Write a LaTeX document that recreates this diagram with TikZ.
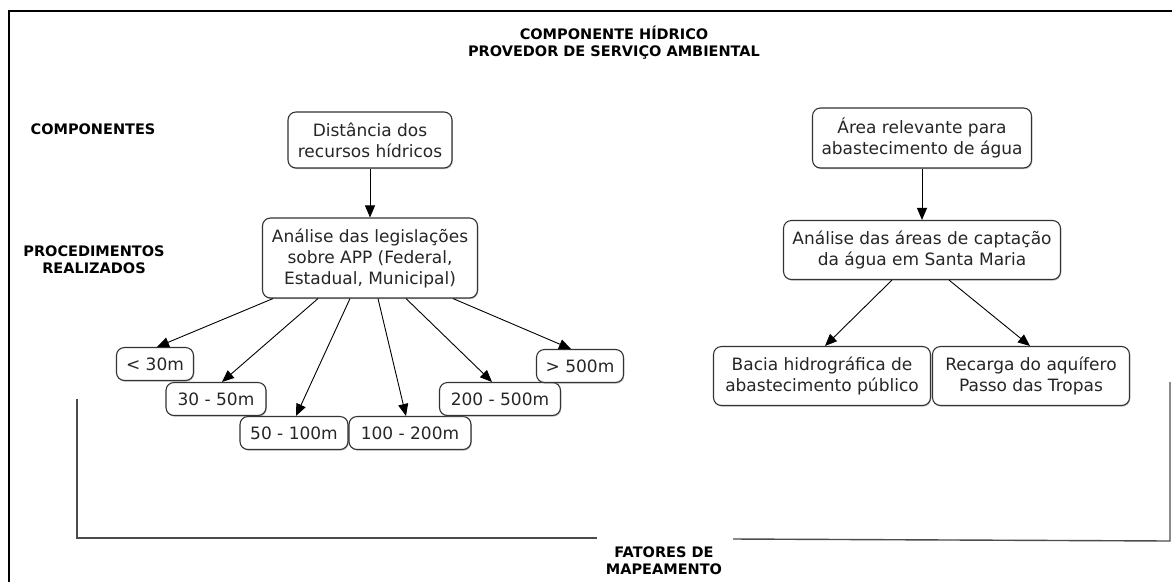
\documentclass[tikz,border=0pt]{standalone}
\usepackage{fontspec}
\setmainfont{DejaVu Sans}
\usetikzlibrary{arrows.meta,calc,shadows}
\begin{document}
\begin{tikzpicture}[x=1pt,y=-1pt,
  box/.style={draw=black!80, fill=white, line width=1.1pt, rounded corners=8pt, align=center, inner sep=0pt, text=black!85, font=\fontsize{17}{21}\selectfont,
    drop shadow={shadow xshift=0.8pt, shadow yshift=-1.2pt, fill=black!45}},
  lbl/.style={font=\bfseries\fontsize{14.5}{17}\selectfont, align=center, inner sep=0pt},
  arr/.style={-{Triangle[length=12pt,width=10pt]}, line width=0.9pt},
  frameline/.style={line width=1.6pt},
  brk/.style={line width=1.4pt, draw=black!70}]
\useasboundingbox (0,0) rectangle (1172,582);
\fill[white] (0,0) rectangle (1172,582);

% frame
\draw[frameline] (9,582) -- (9,11) -- (1172,11);

% titles and side labels
\node[lbl] (title) at (614,43) {COMPONENTE HÍDRICO\\PROVEDOR DE SERVIÇO AMBIENTAL};
\node[lbl] (comp) at (93,129) {COMPONENTES};
\node[lbl] (proc) at (94,260) {PROCEDIMENTOS\\REALIZADOS};
\node[lbl] (fat) at (664,561) {FATORES DE\\MAPEAMENTO};

% left branch
\node[box, minimum width=164pt, minimum height=56pt] (dist) at (370,140) {Distância dos\\recursos hídricos};
\node[box, minimum width=215pt, minimum height=80pt] (anaL) at (370,258) {Análise das legislações\\sobre APP (Federal,\\Estadual, Municipal)};

\node[box, minimum width=77pt, minimum height=33pt] (lt30) at (155,364) {< 30m};
\node[box, minimum width=100pt, minimum height=33pt] (b3050) at (216,399) {30 - 50m};
\node[box, minimum width=108pt, minimum height=33pt] (b50100) at (294,433) {50 - 100m};
\node[box, minimum width=122pt, minimum height=33pt] (b100200) at (410,433) {100 - 200m};
\node[box, minimum width=121pt, minimum height=33pt] (b200500) at (500,399) {200 - 500m};
\node[box, minimum width=87pt, minimum height=33pt] (gt500) at (580,366) {> 500m};

\draw[arr] (dist.south) -- (anaL.north);
\draw[arr] ([xshift=-97pt]anaL.south) -- ([xshift=2pt]lt30.north);
\draw[arr] ([xshift=-52pt]anaL.south) -- ([xshift=6pt]b3050.north);
\draw[arr] ([xshift=-20pt]anaL.south) -- ([xshift=2pt]b50100.north);
\draw[arr] ([xshift=8pt]anaL.south) -- ([xshift=-4pt]b100200.north);
\draw[arr] ([xshift=36pt]anaL.south) -- ([xshift=-8pt]b200500.north);
\draw[arr] ([xshift=83pt]anaL.south) -- ([xshift=-9pt]gt500.north);

% right branch
\node[box, minimum width=219pt, minimum height=60pt] (area) at (922,138) {Área relevante para\\abastecimento de água};
\node[box, minimum width=277pt, minimum height=59pt] (anaR) at (922,250) {Análise das áreas de captação\\da água em Santa Maria};
\node[box, minimum width=217pt, minimum height=59pt] (bacia) at (822,376) {Bacia hidrográfica de\\abastecimento público};
\node[box, minimum width=197pt, minimum height=59pt] (recarga) at (1031,376) {Recarga do aquífero\\Passo das Tropas};

\draw[arr] (area.south) -- (anaR.north);
\draw[arr] ([xshift=-30pt]anaR.south) -- ([xshift=3pt]bacia.north);
\draw[arr] ([xshift=27pt]anaR.south) -- ([xshift=-1pt]recarga.north);

% bracket
\draw[brk] (77,399) -- (77,538) -- (597,538);
\draw[brk] (733,539) -- (1170,541) -- (1170,382);
\end{tikzpicture}
\end{document}
